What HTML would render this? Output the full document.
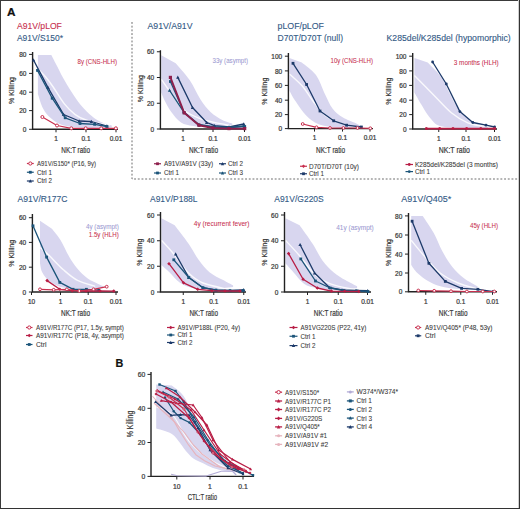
<!DOCTYPE html><html><head><meta charset="utf-8"><style>html,body{margin:0;padding:0;background:#fff;}svg{display:block} text{stroke:currentColor;stroke-width:0.22px;}</style></head><body>
<svg width="520" height="509" viewBox="0 0 520 509" font-family='"Liberation Sans", sans-serif'>
<rect x="0" y="0" width="520" height="509" fill="#fff"/>
<text x="7.00" y="16.30" font-size="11.5" fill="#111" color="#111" font-weight="bold" textLength="8.50" lengthAdjust="spacingAndGlyphs">A</text>
<text x="115.60" y="366.90" font-size="11.5" fill="#111" color="#111" font-weight="bold" textLength="7.80" lengthAdjust="spacingAndGlyphs">B</text>
<path d="M132,22 L132,179 L518,179" fill="none" stroke="#666" stroke-width="0.95" stroke-dasharray="1.9,1.8"/>
<text x="16.90" y="28.60" font-size="9.2" fill="#c8304f" color="#c8304f" font-weight="normal" textLength="45.00" lengthAdjust="spacingAndGlyphs" style="stroke-width:0.12px">A91V/pLOF</text>
<text x="16.90" y="40.60" font-size="9.2" fill="#335a86" color="#335a86" font-weight="normal" textLength="46.10" lengthAdjust="spacingAndGlyphs" style="stroke-width:0.12px">A91V/S150*</text>
<path d="M37.90,54.90 L51.30,54.90 L51.30,54.90 C52.25,56.75 55.07,62.23 57.00,66.00 C58.93,69.77 60.55,73.30 62.90,77.50 C65.25,81.70 68.13,86.62 71.10,91.20 C74.07,95.78 77.27,100.87 80.70,105.00 C84.13,109.13 88.32,113.17 91.70,116.00 C95.08,118.83 97.65,120.42 101.00,122.00 C104.35,123.58 110.00,124.92 111.80,125.50 L111.80,127.50 C107.17,127.55 92.17,128.18 84.00,127.80 C75.83,127.42 68.25,126.73 62.80,125.20 C57.35,123.67 54.57,121.33 51.30,118.60 C48.03,115.87 45.43,112.90 43.20,108.80 C40.97,104.70 38.78,96.47 37.90,94.00 L37.90,94.00 L37.90,54.90 Z" fill="#d8d6ef" stroke="none"/>
<path d="M39.00,70.00 C40.12,71.17 43.33,74.17 45.70,77.00 C48.07,79.83 50.12,82.57 53.20,87.00 C56.28,91.43 60.53,99.00 64.20,103.60 C67.87,108.20 71.57,111.87 75.20,114.60 C78.83,117.33 81.80,118.52 86.00,120.00 C90.20,121.48 96.40,122.67 100.40,123.50 C104.40,124.33 108.40,124.75 110.00,125.00" fill="none" stroke="#ffffff" stroke-width="1.4" opacity="0.85"/>
<path d="M32.60,52.00 L32.60,129.30 L118.00,129.30" fill="none" stroke="#222222" stroke-width="1.4"/>
<path d="M29.10,54.40 L32.60,54.40" stroke="#222222" stroke-width="1"/>
<text x="26.40" y="57.00" font-size="6.5" fill="#3a3a3a" color="#3a3a3a" text-anchor="end">80</text>
<path d="M29.10,73.40 L32.60,73.40" stroke="#222222" stroke-width="1"/>
<text x="26.40" y="76.00" font-size="6.5" fill="#3a3a3a" color="#3a3a3a" text-anchor="end">60</text>
<path d="M29.10,92.20 L32.60,92.20" stroke="#222222" stroke-width="1"/>
<text x="26.40" y="94.80" font-size="6.5" fill="#3a3a3a" color="#3a3a3a" text-anchor="end">40</text>
<path d="M29.10,110.60 L32.60,110.60" stroke="#222222" stroke-width="1"/>
<text x="26.40" y="113.20" font-size="6.5" fill="#3a3a3a" color="#3a3a3a" text-anchor="end">20</text>
<path d="M29.10,129.30 L32.60,129.30" stroke="#222222" stroke-width="1"/>
<text x="26.40" y="131.90" font-size="6.5" fill="#3a3a3a" color="#3a3a3a" text-anchor="end">0</text>
<path d="M56.00,129.30 L56.00,132.30" stroke="#222222" stroke-width="1"/>
<text x="56.00" y="141.10" font-size="6.5" fill="#3a3a3a" color="#3a3a3a" text-anchor="middle">1</text>
<path d="M86.00,129.30 L86.00,132.30" stroke="#222222" stroke-width="1"/>
<text x="86.00" y="141.10" font-size="6.5" fill="#3a3a3a" color="#3a3a3a" text-anchor="middle">0.1</text>
<path d="M116.00,129.30 L116.00,132.30" stroke="#222222" stroke-width="1"/>
<text x="116.00" y="141.10" font-size="6.5" fill="#3a3a3a" color="#3a3a3a" text-anchor="middle">0.01</text>
<text transform="translate(14.10,90.50) rotate(-90)" font-size="8" fill="#3a3a3a" color="#3a3a3a" text-anchor="middle" textLength="27" lengthAdjust="spacingAndGlyphs">% Killing</text>
<text x="61.25" y="152.75" font-size="9.0" fill="#3a3a3a" color="#3a3a3a" font-weight="normal" textLength="28.75" lengthAdjust="spacingAndGlyphs">NK:T ratio</text>
<text x="77.50" y="63.80" font-size="6.6" fill="#c8304f" color="#c8304f" font-weight="normal" textLength="39.50" lengthAdjust="spacingAndGlyphs" style="stroke-width:0.06px">8y (CNS-HLH)</text>
<path d="M33.50,60.00 L48.00,87.60 L63.60,114.50 L79.10,121.00 L91.40,121.50 L106.90,126.00" fill="none" stroke="#1d3a6a" stroke-width="1.3" stroke-linejoin="round" opacity="1"/>
<path d="M33.50,58.20 L35.20,61.40 L31.80,61.40 Z" fill="#1d3a6a"/>
<path d="M48.00,85.80 L49.70,89.00 L46.30,89.00 Z" fill="#1d3a6a"/>
<path d="M63.60,112.70 L65.30,115.90 L61.90,115.90 Z" fill="#1d3a6a"/>
<path d="M79.10,119.20 L80.80,122.40 L77.40,122.40 Z" fill="#1d3a6a"/>
<path d="M91.40,119.70 L93.10,122.90 L89.70,122.90 Z" fill="#1d3a6a"/>
<path d="M106.90,124.20 L108.60,127.40 L105.20,127.40 Z" fill="#1d3a6a"/>
<path d="M37.50,70.40 L52.20,98.20 L65.20,117.80 L80.00,123.50 L94.60,124.30 L107.00,126.50" fill="none" stroke="#1b5479" stroke-width="1.3" stroke-linejoin="round" opacity="1"/>
<rect x="36.10" y="69.00" width="2.80" height="2.80" fill="#1b5479"/>
<rect x="50.80" y="96.80" width="2.80" height="2.80" fill="#1b5479"/>
<rect x="63.80" y="116.40" width="2.80" height="2.80" fill="#1b5479"/>
<rect x="78.60" y="122.10" width="2.80" height="2.80" fill="#1b5479"/>
<rect x="93.20" y="122.90" width="2.80" height="2.80" fill="#1b5479"/>
<rect x="105.60" y="125.10" width="2.80" height="2.80" fill="#1b5479"/>
<path d="M42.35,117.00 L57.00,125.50 L71.30,128.30 L85.70,128.30 L101.20,128.30 L115.90,128.30" fill="none" stroke="#c8304f" stroke-width="1.2" stroke-linejoin="round" opacity="1"/>
<circle cx="42.35" cy="117.00" r="1.50" fill="#fff" stroke="#c8304f" stroke-width="1"/>
<circle cx="57.00" cy="125.50" r="1.50" fill="#fff" stroke="#c8304f" stroke-width="1"/>
<circle cx="71.30" cy="128.30" r="1.50" fill="#fff" stroke="#c8304f" stroke-width="1"/>
<circle cx="85.70" cy="128.30" r="1.50" fill="#fff" stroke="#c8304f" stroke-width="1"/>
<circle cx="101.20" cy="128.30" r="1.50" fill="#fff" stroke="#c8304f" stroke-width="1"/>
<circle cx="115.90" cy="128.30" r="1.50" fill="#fff" stroke="#c8304f" stroke-width="1"/>
<path d="M26.90,163.50 L33.75,163.50" stroke="#c8304f" stroke-width="1.2"/>
<circle cx="30.32" cy="163.50" r="1.60" fill="#fff" stroke="#c8304f" stroke-width="1"/>
<text x="36.90" y="165.90" font-size="6.8" fill="#3a3a3a" color="#3a3a3a" font-weight="normal" textLength="59.10" lengthAdjust="spacingAndGlyphs" style="stroke-width:0.08px">A91V/S150* (P16, 9y)</text>
<path d="M26.90,172.25 L33.75,172.25" stroke="#1b5479" stroke-width="1.2"/>
<rect x="28.93" y="170.85" width="2.80" height="2.80" fill="#1b5479"/>
<text x="36.90" y="174.65" font-size="6.8" fill="#3a3a3a" color="#3a3a3a" font-weight="normal" textLength="15.00" lengthAdjust="spacingAndGlyphs" style="stroke-width:0.08px">Ctrl 1</text>
<path d="M26.90,181.00 L33.75,181.00" stroke="#1d3a6a" stroke-width="1.2"/>
<path d="M30.32,179.20 L32.02,182.40 L28.62,182.40 Z" fill="#1d3a6a"/>
<text x="36.90" y="183.40" font-size="6.8" fill="#3a3a3a" color="#3a3a3a" font-weight="normal" textLength="15.00" lengthAdjust="spacingAndGlyphs" style="stroke-width:0.08px">Ctrl 2</text>
<text x="147.50" y="28.60" font-size="9.2" fill="#335a86" color="#335a86" font-weight="normal" textLength="45.00" lengthAdjust="spacingAndGlyphs" style="stroke-width:0.12px">A91V/A91V</text>
<path d="M161.20,55.30 L175.70,63.30 L175.70,63.30 C178.02,66.10 185.47,74.07 189.60,80.10 C193.73,86.13 197.02,94.20 200.50,99.50 C203.98,104.80 206.87,108.50 210.50,111.90 C214.13,115.30 218.67,117.98 222.30,119.90 C225.93,121.82 230.63,122.82 232.30,123.40 L232.30,125.00 C228.75,125.33 217.48,126.83 211.00,127.00 C204.52,127.17 198.40,126.75 193.40,126.00 C188.40,125.25 184.68,124.83 181.00,122.50 C177.32,120.17 173.97,115.53 171.30,112.00 C168.63,108.47 166.68,104.55 165.00,101.30 C163.32,98.05 161.83,93.97 161.20,92.50 L161.20,92.50 L161.20,55.30 Z" fill="#d8d6ef" stroke="none"/>
<path d="M161.20,79.20 C163.62,82.63 171.82,94.58 175.70,99.80 C179.58,105.02 180.08,107.25 184.50,110.50 C188.92,113.75 194.82,116.85 202.20,119.30 C209.58,121.75 224.37,124.22 228.80,125.20" fill="none" stroke="#ffffff" stroke-width="1.4" opacity="0.85"/>
<path d="M160.40,50.30 L160.40,129.00 L246.00,129.00" fill="none" stroke="#222222" stroke-width="1.4"/>
<path d="M156.90,51.75 L160.40,51.75" stroke="#222222" stroke-width="1"/>
<text x="154.20" y="54.35" font-size="6.5" fill="#3a3a3a" color="#3a3a3a" text-anchor="end">60</text>
<path d="M156.90,77.50 L160.40,77.50" stroke="#222222" stroke-width="1"/>
<text x="154.20" y="80.10" font-size="6.5" fill="#3a3a3a" color="#3a3a3a" text-anchor="end">40</text>
<path d="M156.90,103.25 L160.40,103.25" stroke="#222222" stroke-width="1"/>
<text x="154.20" y="105.85" font-size="6.5" fill="#3a3a3a" color="#3a3a3a" text-anchor="end">20</text>
<path d="M156.90,129.00 L160.40,129.00" stroke="#222222" stroke-width="1"/>
<text x="154.20" y="131.60" font-size="6.5" fill="#3a3a3a" color="#3a3a3a" text-anchor="end">0</text>
<path d="M183.00,129.00 L183.00,132.00" stroke="#222222" stroke-width="1"/>
<text x="183.00" y="140.80" font-size="6.5" fill="#3a3a3a" color="#3a3a3a" text-anchor="middle">1</text>
<path d="M213.00,129.00 L213.00,132.00" stroke="#222222" stroke-width="1"/>
<text x="213.00" y="140.80" font-size="6.5" fill="#3a3a3a" color="#3a3a3a" text-anchor="middle">0.1</text>
<path d="M244.50,129.00 L244.50,132.00" stroke="#222222" stroke-width="1"/>
<text x="244.50" y="140.80" font-size="6.5" fill="#3a3a3a" color="#3a3a3a" text-anchor="middle">0.01</text>
<text transform="translate(143.20,88.70) rotate(-90)" font-size="8" fill="#3a3a3a" color="#3a3a3a" text-anchor="middle" textLength="27" lengthAdjust="spacingAndGlyphs">% Killing</text>
<text x="189.00" y="152.75" font-size="9.0" fill="#3a3a3a" color="#3a3a3a" font-weight="normal" textLength="29.00" lengthAdjust="spacingAndGlyphs">NK:T ratio</text>
<text x="212.50" y="63.20" font-size="6.6" fill="#9c9ad2" color="#9c9ad2" font-weight="normal" textLength="35.50" lengthAdjust="spacingAndGlyphs" style="stroke-width:0.06px">33y (asympt)</text>
<path d="M177.80,77.40 L192.50,107.50 L206.70,122.50 L214.60,125.70 L229.00,127.00 L243.80,124.00" fill="none" stroke="#1d3a6a" stroke-width="1.3" stroke-linejoin="round" opacity="1"/>
<path d="M177.80,75.60 L179.50,78.80 L176.10,78.80 Z" fill="#1d3a6a"/>
<path d="M192.50,105.70 L194.20,108.90 L190.80,108.90 Z" fill="#1d3a6a"/>
<path d="M206.70,120.70 L208.40,123.90 L205.00,123.90 Z" fill="#1d3a6a"/>
<path d="M214.60,123.90 L216.30,127.10 L212.90,127.10 Z" fill="#1d3a6a"/>
<path d="M229.00,125.20 L230.70,128.40 L227.30,128.40 Z" fill="#1d3a6a"/>
<path d="M243.80,122.20 L245.50,125.40 L242.10,125.40 Z" fill="#1d3a6a"/>
<path d="M169.50,90.30 L183.70,111.90 L199.00,124.50 L214.00,127.00 L229.00,127.50 L244.00,126.00" fill="none" stroke="#1b5479" stroke-width="1.3" stroke-linejoin="round" opacity="1"/>
<path d="M169.50,88.50 L171.20,91.70 L167.80,91.70 Z" fill="#1b5479"/>
<path d="M183.70,110.10 L185.40,113.30 L182.00,113.30 Z" fill="#1b5479"/>
<path d="M199.00,122.70 L200.70,125.90 L197.30,125.90 Z" fill="#1b5479"/>
<path d="M214.00,125.20 L215.70,128.40 L212.30,128.40 Z" fill="#1b5479"/>
<path d="M229.00,125.70 L230.70,128.90 L227.30,128.90 Z" fill="#1b5479"/>
<path d="M244.00,124.20 L245.70,127.40 L242.30,127.40 Z" fill="#1b5479"/>
<path d="M170.40,81.50 L184.20,112.80 L199.00,125.20 L212.80,127.00 L229.00,127.50 L244.70,126.50" fill="none" stroke="#1b5479" stroke-width="1.3" stroke-linejoin="round" opacity="1"/>
<rect x="169.00" y="80.10" width="2.80" height="2.80" fill="#1b5479"/>
<rect x="182.80" y="111.40" width="2.80" height="2.80" fill="#1b5479"/>
<rect x="197.60" y="123.80" width="2.80" height="2.80" fill="#1b5479"/>
<rect x="211.40" y="125.60" width="2.80" height="2.80" fill="#1b5479"/>
<rect x="227.60" y="126.10" width="2.80" height="2.80" fill="#1b5479"/>
<rect x="243.30" y="125.10" width="2.80" height="2.80" fill="#1b5479"/>
<path d="M170.40,77.40 L184.20,112.80 L199.00,125.20 L212.80,128.00 L229.00,128.60 L244.70,128.60" fill="none" stroke="#8e1f4c" stroke-width="1.9" stroke-linejoin="round" opacity="1"/>
<rect x="168.80" y="75.80" width="3.20" height="3.20" fill="#8e1f4c"/>
<rect x="182.60" y="111.20" width="3.20" height="3.20" fill="#8e1f4c"/>
<rect x="197.40" y="123.60" width="3.20" height="3.20" fill="#8e1f4c"/>
<rect x="211.20" y="126.40" width="3.20" height="3.20" fill="#8e1f4c"/>
<rect x="227.40" y="127.00" width="3.20" height="3.20" fill="#8e1f4c"/>
<rect x="243.10" y="127.00" width="3.20" height="3.20" fill="#8e1f4c"/>
<path d="M154.00,163.75 L161.00,163.75" stroke="#8e1f4c" stroke-width="1.2"/>
<rect x="156.10" y="162.35" width="2.80" height="2.80" fill="#8e1f4c"/>
<text x="164.00" y="166.15" font-size="6.8" fill="#3a3a3a" color="#3a3a3a" font-weight="normal" textLength="49.00" lengthAdjust="spacingAndGlyphs" style="stroke-width:0.08px">A91V/A91V (33y)</text>
<path d="M219.00,163.75 L226.00,163.75" stroke="#1d3a6a" stroke-width="1.2"/>
<path d="M222.50,161.95 L224.20,165.15 L220.80,165.15 Z" fill="#1d3a6a"/>
<text x="228.00" y="166.15" font-size="6.8" fill="#3a3a3a" color="#3a3a3a" font-weight="normal" textLength="15.00" lengthAdjust="spacingAndGlyphs" style="stroke-width:0.08px">Ctrl 2</text>
<path d="M154.00,173.00 L161.00,173.00" stroke="#1b5479" stroke-width="1.2"/>
<rect x="156.10" y="171.60" width="2.80" height="2.80" fill="#1b5479"/>
<text x="164.00" y="175.40" font-size="6.8" fill="#3a3a3a" color="#3a3a3a" font-weight="normal" textLength="15.00" lengthAdjust="spacingAndGlyphs" style="stroke-width:0.08px">Ctrl 1</text>
<path d="M219.00,173.00 L226.00,173.00" stroke="#1b5479" stroke-width="1.2"/>
<path d="M222.50,171.20 L224.20,174.40 L220.80,174.40 Z" fill="#1b5479"/>
<text x="228.00" y="175.40" font-size="6.8" fill="#3a3a3a" color="#3a3a3a" font-weight="normal" textLength="15.00" lengthAdjust="spacingAndGlyphs" style="stroke-width:0.08px">Ctrl 3</text>
<text x="277.50" y="28.60" font-size="9.2" fill="#335a86" color="#335a86" font-weight="normal" textLength="46.50" lengthAdjust="spacingAndGlyphs" style="stroke-width:0.12px">pLOF/pLOF</text>
<text x="277.50" y="40.60" font-size="9.2" fill="#335a86" color="#335a86" font-weight="normal" textLength="65.50" lengthAdjust="spacingAndGlyphs" style="stroke-width:0.12px">D70T/D70T (null)</text>
<path d="M289.40,58.00 L301.80,62.40 L301.80,62.40 C304.13,64.47 311.93,69.50 315.80,74.80 C319.67,80.10 322.22,88.60 325.00,94.20 C327.78,99.80 329.57,104.57 332.50,108.40 C335.43,112.23 338.63,114.70 342.60,117.20 C346.57,119.70 353.23,121.93 356.30,123.40 C359.37,124.87 360.22,125.57 361.00,126.00 L361.00,127.50 C357.17,127.55 345.07,128.33 338.00,127.80 C330.93,127.27 323.90,126.35 318.60,124.30 C313.30,122.25 310.03,119.33 306.20,115.50 C302.37,111.67 298.40,105.43 295.60,101.30 C292.80,97.17 290.43,92.47 289.40,90.70 L289.40,90.70 L289.40,58.00 Z" fill="#d8d6ef" stroke="none"/>
<path d="M289.40,73.90 C291.62,76.00 298.72,81.90 302.70,86.50 C306.68,91.10 309.47,96.63 313.30,101.50 C317.13,106.37 321.28,112.15 325.70,115.70 C330.12,119.25 334.78,120.92 339.80,122.80 C344.82,124.68 353.13,126.30 355.80,127.00" fill="none" stroke="#ffffff" stroke-width="1.4" opacity="0.85"/>
<path d="M288.40,53.00 L288.40,128.60 L373.00,128.60" fill="none" stroke="#222222" stroke-width="1.4"/>
<path d="M284.90,56.20 L288.40,56.20" stroke="#222222" stroke-width="1"/>
<text x="282.20" y="58.80" font-size="6.5" fill="#3a3a3a" color="#3a3a3a" text-anchor="end">100</text>
<path d="M284.90,70.90 L288.40,70.90" stroke="#222222" stroke-width="1"/>
<text x="282.20" y="73.50" font-size="6.5" fill="#3a3a3a" color="#3a3a3a" text-anchor="end">80</text>
<path d="M284.90,85.40 L288.40,85.40" stroke="#222222" stroke-width="1"/>
<text x="282.20" y="88.00" font-size="6.5" fill="#3a3a3a" color="#3a3a3a" text-anchor="end">60</text>
<path d="M284.90,100.20 L288.40,100.20" stroke="#222222" stroke-width="1"/>
<text x="282.20" y="102.80" font-size="6.5" fill="#3a3a3a" color="#3a3a3a" text-anchor="end">40</text>
<path d="M284.90,114.60 L288.40,114.60" stroke="#222222" stroke-width="1"/>
<text x="282.20" y="117.20" font-size="6.5" fill="#3a3a3a" color="#3a3a3a" text-anchor="end">20</text>
<path d="M284.90,128.60 L288.40,128.60" stroke="#222222" stroke-width="1"/>
<text x="282.20" y="131.20" font-size="6.5" fill="#3a3a3a" color="#3a3a3a" text-anchor="end">0</text>
<path d="M314.50,128.60 L314.50,131.60" stroke="#222222" stroke-width="1"/>
<text x="314.50" y="140.40" font-size="6.5" fill="#3a3a3a" color="#3a3a3a" text-anchor="middle">1</text>
<path d="M342.50,128.60 L342.50,131.60" stroke="#222222" stroke-width="1"/>
<text x="342.50" y="140.40" font-size="6.5" fill="#3a3a3a" color="#3a3a3a" text-anchor="middle">0.1</text>
<path d="M370.00,128.60 L370.00,131.60" stroke="#222222" stroke-width="1"/>
<text x="370.00" y="140.40" font-size="6.5" fill="#3a3a3a" color="#3a3a3a" text-anchor="middle">0.01</text>
<text transform="translate(267.30,91.20) rotate(-90)" font-size="8" fill="#3a3a3a" color="#3a3a3a" text-anchor="middle" textLength="27" lengthAdjust="spacingAndGlyphs">% Killing</text>
<text x="316.00" y="152.75" font-size="9.0" fill="#3a3a3a" color="#3a3a3a" font-weight="normal" textLength="29.00" lengthAdjust="spacingAndGlyphs">NK:T ratio</text>
<text x="330.50" y="63.00" font-size="6.6" fill="#c8304f" color="#c8304f" font-weight="normal" textLength="42.50" lengthAdjust="spacingAndGlyphs" style="stroke-width:0.06px">10y (CNS-HLH)</text>
<path d="M293.00,63.30 L306.60,84.50 L320.00,111.00 L333.70,120.80 L346.60,125.20 L361.40,127.00" fill="none" stroke="#1d3a6a" stroke-width="1.3" stroke-linejoin="round" opacity="1"/>
<rect x="291.60" y="61.90" width="2.80" height="2.80" fill="#1d3a6a"/>
<rect x="305.20" y="83.10" width="2.80" height="2.80" fill="#1d3a6a"/>
<rect x="318.60" y="109.60" width="2.80" height="2.80" fill="#1d3a6a"/>
<rect x="332.30" y="119.40" width="2.80" height="2.80" fill="#1d3a6a"/>
<rect x="345.20" y="123.80" width="2.80" height="2.80" fill="#1d3a6a"/>
<rect x="360.00" y="125.60" width="2.80" height="2.80" fill="#1d3a6a"/>
<path d="M302.70,124.00 L316.50,127.30 L330.00,128.00 L343.40,128.00 L357.50,128.00 L370.30,128.30" fill="none" stroke="#c8304f" stroke-width="1.2" stroke-linejoin="round" opacity="1"/>
<circle cx="302.70" cy="124.00" r="1.40" fill="#fff" stroke="#c8304f" stroke-width="1"/>
<circle cx="316.50" cy="127.30" r="1.40" fill="#fff" stroke="#c8304f" stroke-width="1"/>
<circle cx="330.00" cy="128.00" r="1.40" fill="#fff" stroke="#c8304f" stroke-width="1"/>
<circle cx="343.40" cy="128.00" r="1.40" fill="#fff" stroke="#c8304f" stroke-width="1"/>
<circle cx="357.50" cy="128.00" r="1.40" fill="#fff" stroke="#c8304f" stroke-width="1"/>
<circle cx="370.30" cy="128.30" r="1.40" fill="#fff" stroke="#c8304f" stroke-width="1"/>
<path d="M300.00,166.25 L307.00,166.25" stroke="#c8304f" stroke-width="1.2"/>
<path d="M303.50,164.45 L305.30,166.25 L303.50,168.05 L301.70,166.25 Z" fill="#c8304f"/>
<text x="309.00" y="168.65" font-size="6.8" fill="#3a3a3a" color="#3a3a3a" font-weight="normal" textLength="50.00" lengthAdjust="spacingAndGlyphs" style="stroke-width:0.08px">D70T/D70T (10y)</text>
<path d="M300.00,173.75 L307.00,173.75" stroke="#1d3a6a" stroke-width="1.2"/>
<rect x="302.10" y="172.35" width="2.80" height="2.80" fill="#1d3a6a"/>
<text x="309.00" y="176.15" font-size="6.8" fill="#3a3a3a" color="#3a3a3a" font-weight="normal" textLength="15.00" lengthAdjust="spacingAndGlyphs" style="stroke-width:0.08px">Ctrl 1</text>
<text x="386.50" y="40.60" font-size="9.2" fill="#335a86" color="#335a86" font-weight="normal" textLength="124.25" lengthAdjust="spacingAndGlyphs" style="stroke-width:0.12px">K285del/K285del (hypomorphic)</text>
<path d="M414.40,58.00 L427.70,62.40 L427.70,62.40 C429.88,64.75 437.22,71.48 440.80,76.50 C444.38,81.52 446.72,87.78 449.20,92.50 C451.68,97.22 453.22,100.97 455.70,104.80 C458.18,108.63 460.72,112.40 464.10,115.50 C467.48,118.60 472.05,121.48 476.00,123.40 C479.95,125.32 485.83,126.40 487.80,127.00 L487.80,128.00 C483.67,127.97 470.97,128.13 463.00,127.80 C455.03,127.47 445.58,127.77 440.00,126.00 C434.42,124.23 432.58,120.73 429.50,117.20 C426.42,113.67 424.02,108.92 421.50,104.80 C418.98,100.68 415.58,94.55 414.40,92.50 L414.40,92.50 L414.40,58.00 Z" fill="#d8d6ef" stroke="none"/>
<path d="M414.40,75.60 C417.48,78.70 426.75,88.00 432.90,94.20 C439.05,100.40 445.48,108.03 451.30,112.80 C457.12,117.57 462.30,120.53 467.80,122.80 C473.30,125.07 481.55,125.80 484.30,126.40" fill="none" stroke="#ffffff" stroke-width="1.4" opacity="0.85"/>
<path d="M412.70,53.00 L412.70,129.00 L497.00,129.00" fill="none" stroke="#222222" stroke-width="1.4"/>
<path d="M409.20,56.20 L412.70,56.20" stroke="#222222" stroke-width="1"/>
<text x="406.50" y="58.80" font-size="6.5" fill="#3a3a3a" color="#3a3a3a" text-anchor="end">100</text>
<path d="M409.20,70.90 L412.70,70.90" stroke="#222222" stroke-width="1"/>
<text x="406.50" y="73.50" font-size="6.5" fill="#3a3a3a" color="#3a3a3a" text-anchor="end">80</text>
<path d="M409.20,85.40 L412.70,85.40" stroke="#222222" stroke-width="1"/>
<text x="406.50" y="88.00" font-size="6.5" fill="#3a3a3a" color="#3a3a3a" text-anchor="end">60</text>
<path d="M409.20,100.20 L412.70,100.20" stroke="#222222" stroke-width="1"/>
<text x="406.50" y="102.80" font-size="6.5" fill="#3a3a3a" color="#3a3a3a" text-anchor="end">40</text>
<path d="M409.20,114.60 L412.70,114.60" stroke="#222222" stroke-width="1"/>
<text x="406.50" y="117.20" font-size="6.5" fill="#3a3a3a" color="#3a3a3a" text-anchor="end">20</text>
<path d="M409.20,129.00 L412.70,129.00" stroke="#222222" stroke-width="1"/>
<text x="406.50" y="131.60" font-size="6.5" fill="#3a3a3a" color="#3a3a3a" text-anchor="end">0</text>
<path d="M438.75,129.00 L438.75,132.00" stroke="#222222" stroke-width="1"/>
<text x="438.75" y="140.80" font-size="6.5" fill="#3a3a3a" color="#3a3a3a" text-anchor="middle">1</text>
<path d="M466.00,129.00 L466.00,132.00" stroke="#222222" stroke-width="1"/>
<text x="466.00" y="140.80" font-size="6.5" fill="#3a3a3a" color="#3a3a3a" text-anchor="middle">0.1</text>
<path d="M494.50,129.00 L494.50,132.00" stroke="#222222" stroke-width="1"/>
<text x="494.50" y="140.80" font-size="6.5" fill="#3a3a3a" color="#3a3a3a" text-anchor="middle">0.01</text>
<text transform="translate(391.40,91.20) rotate(-90)" font-size="8" fill="#3a3a3a" color="#3a3a3a" text-anchor="middle" textLength="27" lengthAdjust="spacingAndGlyphs">% Killing</text>
<text x="438.75" y="152.75" font-size="9.0" fill="#3a3a3a" color="#3a3a3a" font-weight="normal" textLength="31.25" lengthAdjust="spacingAndGlyphs">NK:T ratio</text>
<text x="453.75" y="64.80" font-size="6.6" fill="#c8304f" color="#c8304f" font-weight="normal" textLength="45.00" lengthAdjust="spacingAndGlyphs" style="stroke-width:0.06px">3 months (HLH)</text>
<path d="M432.60,62.00 L446.30,84.00 L459.90,111.60 L472.80,122.50 L486.00,125.20 L494.60,127.00" fill="none" stroke="#1d3a6a" stroke-width="1.3" stroke-linejoin="round" opacity="1"/>
<circle cx="432.60" cy="62.00" r="1.40" fill="#1d3a6a"/>
<circle cx="446.30" cy="84.00" r="1.40" fill="#1d3a6a"/>
<circle cx="459.90" cy="111.60" r="1.40" fill="#1d3a6a"/>
<circle cx="472.80" cy="122.50" r="1.40" fill="#1d3a6a"/>
<circle cx="486.00" cy="125.20" r="1.40" fill="#1d3a6a"/>
<circle cx="494.60" cy="127.00" r="1.40" fill="#1d3a6a"/>
<path d="M426.30,128.60 L439.70,128.60 L453.00,128.60 L466.60,128.60 L480.80,128.60 L494.60,128.60" fill="none" stroke="#b81d45" stroke-width="1.7" stroke-linejoin="round" opacity="1"/>
<circle cx="426.30" cy="128.60" r="1.50" fill="#b81d45"/>
<circle cx="439.70" cy="128.60" r="1.50" fill="#b81d45"/>
<circle cx="453.00" cy="128.60" r="1.50" fill="#b81d45"/>
<circle cx="466.60" cy="128.60" r="1.50" fill="#b81d45"/>
<circle cx="480.80" cy="128.60" r="1.50" fill="#b81d45"/>
<circle cx="494.60" cy="128.60" r="1.50" fill="#b81d45"/>
<path d="M405.50,164.50 L413.00,164.50" stroke="#b81d45" stroke-width="1.2"/>
<circle cx="409.25" cy="164.50" r="1.40" fill="#b81d45"/>
<text x="415.00" y="166.90" font-size="6.8" fill="#3a3a3a" color="#3a3a3a" font-weight="normal" textLength="83.00" lengthAdjust="spacingAndGlyphs" style="stroke-width:0.08px">K285del/K285del (3 months)</text>
<path d="M405.50,171.60 L413.00,171.60" stroke="#1b5479" stroke-width="1.2"/>
<circle cx="409.25" cy="171.60" r="1.40" fill="#1b5479"/>
<text x="415.00" y="174.00" font-size="6.8" fill="#3a3a3a" color="#3a3a3a" font-weight="normal" textLength="15.00" lengthAdjust="spacingAndGlyphs" style="stroke-width:0.08px">Ctrl 1</text>
<text x="17.50" y="202.20" font-size="9.2" fill="#335a86" color="#335a86" font-weight="normal" textLength="50.00" lengthAdjust="spacingAndGlyphs" style="stroke-width:0.12px">A91V/R177C</text>
<path d="M40.00,220.80 L51.90,228.80 L51.90,228.80 C53.35,230.72 57.77,235.73 60.60,240.30 C63.43,244.87 66.12,251.48 68.90,256.20 C71.68,260.92 74.22,264.92 77.30,268.60 C80.38,272.28 83.73,275.65 87.40,278.30 C91.07,280.95 96.67,283.17 99.30,284.50 C101.93,285.83 102.55,286.00 103.20,286.30 L103.20,287.50 C99.52,287.75 88.03,289.05 81.10,289.00 C74.17,288.95 66.92,288.53 61.60,287.20 C56.28,285.87 52.43,283.50 49.20,281.00 C45.97,278.50 43.73,275.15 42.20,272.20 C40.67,269.25 40.37,264.78 40.00,263.30 L40.00,263.30 L40.00,220.80 Z" fill="#d8d6ef" stroke="none"/>
<path d="M40.00,247.40 C41.53,248.77 45.30,251.87 49.20,255.60 C53.10,259.33 58.68,265.67 63.40,269.80 C68.12,273.93 72.20,277.65 77.50,280.40 C82.80,283.15 92.25,285.32 95.20,286.30" fill="none" stroke="#ffffff" stroke-width="1.4" opacity="0.85"/>
<path d="M32.40,214.00 L32.40,292.00 L118.00,292.00" fill="none" stroke="#222222" stroke-width="1.4"/>
<path d="M28.90,217.70 L32.40,217.70" stroke="#222222" stroke-width="1"/>
<text x="26.20" y="220.30" font-size="6.5" fill="#3a3a3a" color="#3a3a3a" text-anchor="end">60</text>
<path d="M28.90,242.40 L32.40,242.40" stroke="#222222" stroke-width="1"/>
<text x="26.20" y="245.00" font-size="6.5" fill="#3a3a3a" color="#3a3a3a" text-anchor="end">40</text>
<path d="M28.90,267.20 L32.40,267.20" stroke="#222222" stroke-width="1"/>
<text x="26.20" y="269.80" font-size="6.5" fill="#3a3a3a" color="#3a3a3a" text-anchor="end">20</text>
<path d="M28.90,292.00 L32.40,292.00" stroke="#222222" stroke-width="1"/>
<text x="26.20" y="294.60" font-size="6.5" fill="#3a3a3a" color="#3a3a3a" text-anchor="end">0</text>
<path d="M31.50,292.00 L31.50,295.00" stroke="#222222" stroke-width="1"/>
<text x="31.50" y="303.80" font-size="6.5" fill="#3a3a3a" color="#3a3a3a" text-anchor="middle">10</text>
<path d="M60.50,292.00 L60.50,295.00" stroke="#222222" stroke-width="1"/>
<text x="60.50" y="303.80" font-size="6.5" fill="#3a3a3a" color="#3a3a3a" text-anchor="middle">1</text>
<path d="M88.20,292.00 L88.20,295.00" stroke="#222222" stroke-width="1"/>
<text x="88.20" y="303.80" font-size="6.5" fill="#3a3a3a" color="#3a3a3a" text-anchor="middle">0.1</text>
<path d="M116.00,292.00 L116.00,295.00" stroke="#222222" stroke-width="1"/>
<text x="116.00" y="303.80" font-size="6.5" fill="#3a3a3a" color="#3a3a3a" text-anchor="middle">0.01</text>
<text transform="translate(14.30,253.30) rotate(-90)" font-size="8" fill="#3a3a3a" color="#3a3a3a" text-anchor="middle" textLength="27" lengthAdjust="spacingAndGlyphs">% Killing</text>
<text x="61.00" y="315.70" font-size="9.0" fill="#3a3a3a" color="#3a3a3a" font-weight="normal" textLength="29.00" lengthAdjust="spacingAndGlyphs">NK:T ratio</text>
<text x="86.00" y="229.10" font-size="6.6" fill="#9c9ad2" color="#9c9ad2" font-weight="normal" textLength="32.75" lengthAdjust="spacingAndGlyphs" style="stroke-width:0.06px">4y (asympt)</text>
<text x="88.75" y="237.40" font-size="6.6" fill="#c8304f" color="#c8304f" font-weight="normal" textLength="30.00" lengthAdjust="spacingAndGlyphs" style="stroke-width:0.06px">1.5y (HLH)</text>
<path d="M33.00,225.80 L46.60,257.10 L59.80,282.40 L73.10,289.30 L86.40,289.30 L98.80,290.20" fill="none" stroke="#1b5479" stroke-width="1.3" stroke-linejoin="round" opacity="1"/>
<rect x="31.60" y="224.40" width="2.80" height="2.80" fill="#1b5479"/>
<rect x="45.20" y="255.70" width="2.80" height="2.80" fill="#1b5479"/>
<rect x="58.40" y="281.00" width="2.80" height="2.80" fill="#1b5479"/>
<rect x="71.70" y="287.90" width="2.80" height="2.80" fill="#1b5479"/>
<rect x="85.00" y="287.90" width="2.80" height="2.80" fill="#1b5479"/>
<rect x="97.40" y="288.80" width="2.80" height="2.80" fill="#1b5479"/>
<path d="M47.10,280.60 L59.80,289.30 L72.20,290.70 L86.00,291.00 L100.00,291.00 L113.80,291.10" fill="none" stroke="#b81d45" stroke-width="1.3" stroke-linejoin="round" opacity="1"/>
<path d="M47.10,278.80 L48.90,280.60 L47.10,282.40 L45.30,280.60 Z" fill="#b81d45"/>
<path d="M59.80,287.50 L61.60,289.30 L59.80,291.10 L58.00,289.30 Z" fill="#b81d45"/>
<path d="M72.20,288.90 L74.00,290.70 L72.20,292.50 L70.40,290.70 Z" fill="#b81d45"/>
<path d="M86.00,289.20 L87.80,291.00 L86.00,292.80 L84.20,291.00 Z" fill="#b81d45"/>
<path d="M100.00,289.20 L101.80,291.00 L100.00,292.80 L98.20,291.00 Z" fill="#b81d45"/>
<path d="M113.80,289.30 L115.60,291.10 L113.80,292.90 L112.00,291.10 Z" fill="#b81d45"/>
<path d="M40.00,289.30 L53.70,289.80 L66.90,289.30 L79.30,291.00 L93.50,289.30 L106.70,286.70" fill="none" stroke="#c8304f" stroke-width="1.2" stroke-linejoin="round" opacity="1"/>
<circle cx="40.00" cy="289.30" r="1.40" fill="#fff" stroke="#c8304f" stroke-width="1"/>
<circle cx="53.70" cy="289.80" r="1.40" fill="#fff" stroke="#c8304f" stroke-width="1"/>
<circle cx="66.90" cy="289.30" r="1.40" fill="#fff" stroke="#c8304f" stroke-width="1"/>
<circle cx="79.30" cy="291.00" r="1.40" fill="#fff" stroke="#c8304f" stroke-width="1"/>
<circle cx="93.50" cy="289.30" r="1.40" fill="#fff" stroke="#c8304f" stroke-width="1"/>
<circle cx="106.70" cy="286.70" r="1.40" fill="#fff" stroke="#c8304f" stroke-width="1"/>
<path d="M26.00,327.50 L32.50,327.50" stroke="#c8304f" stroke-width="1.2"/>
<circle cx="29.25" cy="327.50" r="1.60" fill="#fff" stroke="#c8304f" stroke-width="1"/>
<text x="36.00" y="329.90" font-size="6.8" fill="#3a3a3a" color="#3a3a3a" font-weight="normal" textLength="87.75" lengthAdjust="spacingAndGlyphs" style="stroke-width:0.08px">A91V/R177C (P17, 1.5y, sympt)</text>
<path d="M26.00,335.50 L32.50,335.50" stroke="#b81d45" stroke-width="1.2"/>
<path d="M29.25,333.70 L31.05,335.50 L29.25,337.30 L27.45,335.50 Z" fill="#b81d45"/>
<text x="36.00" y="337.90" font-size="6.8" fill="#3a3a3a" color="#3a3a3a" font-weight="normal" textLength="87.75" lengthAdjust="spacingAndGlyphs" style="stroke-width:0.08px">A91V/R177C (P18, 4y, asympt)</text>
<path d="M26.00,344.50 L32.50,344.50" stroke="#1b5479" stroke-width="1.2"/>
<rect x="27.85" y="343.10" width="2.80" height="2.80" fill="#1b5479"/>
<text x="36.00" y="346.90" font-size="6.8" fill="#3a3a3a" color="#3a3a3a" font-weight="normal" textLength="10.50" lengthAdjust="spacingAndGlyphs" style="stroke-width:0.08px">Ctrl</text>
<text x="150.00" y="202.20" font-size="9.2" fill="#335a86" color="#335a86" font-weight="normal" textLength="47.50" lengthAdjust="spacingAndGlyphs" style="stroke-width:0.12px">A91V/P188L</text>
<path d="M161.40,218.20 L174.70,225.30 L174.70,225.30 C177.02,228.38 184.62,238.05 188.60,243.80 C192.58,249.55 195.12,255.07 198.60,259.80 C202.08,264.53 205.42,268.82 209.50,272.20 C213.58,275.58 219.17,277.90 223.10,280.10 C227.03,282.30 231.43,284.52 233.10,285.40 L233.10,287.00 C229.27,287.38 216.88,289.13 210.10,289.30 C203.32,289.47 197.42,289.08 192.40,288.00 C187.38,286.92 183.83,285.43 180.00,282.80 C176.17,280.17 172.50,275.15 169.40,272.20 C166.30,269.25 162.73,266.28 161.40,265.10 L161.40,265.10 L161.40,218.20 Z" fill="#d8d6ef" stroke="none"/>
<path d="M161.40,240.30 C163.32,242.42 168.33,247.50 172.90,253.00 C177.47,258.50 183.78,268.30 188.80,273.30 C193.82,278.30 196.50,280.33 203.00,283.00 C209.50,285.67 223.67,288.25 227.80,289.30" fill="none" stroke="#ffffff" stroke-width="1.4" opacity="0.85"/>
<path d="M160.50,212.00 L160.50,292.00 L246.00,292.00" fill="none" stroke="#222222" stroke-width="1.4"/>
<path d="M157.00,215.00 L160.50,215.00" stroke="#222222" stroke-width="1"/>
<text x="154.30" y="217.60" font-size="6.5" fill="#3a3a3a" color="#3a3a3a" text-anchor="end">60</text>
<path d="M157.00,240.75 L160.50,240.75" stroke="#222222" stroke-width="1"/>
<text x="154.30" y="243.35" font-size="6.5" fill="#3a3a3a" color="#3a3a3a" text-anchor="end">40</text>
<path d="M157.00,266.25 L160.50,266.25" stroke="#222222" stroke-width="1"/>
<text x="154.30" y="268.85" font-size="6.5" fill="#3a3a3a" color="#3a3a3a" text-anchor="end">20</text>
<path d="M157.00,292.00 L160.50,292.00" stroke="#222222" stroke-width="1"/>
<text x="154.30" y="294.60" font-size="6.5" fill="#3a3a3a" color="#3a3a3a" text-anchor="end">0</text>
<path d="M183.25,292.00 L183.25,295.00" stroke="#222222" stroke-width="1"/>
<text x="183.25" y="303.80" font-size="6.5" fill="#3a3a3a" color="#3a3a3a" text-anchor="middle">1</text>
<path d="M213.75,292.00 L213.75,295.00" stroke="#222222" stroke-width="1"/>
<text x="213.75" y="303.80" font-size="6.5" fill="#3a3a3a" color="#3a3a3a" text-anchor="middle">0.1</text>
<path d="M243.75,292.00 L243.75,295.00" stroke="#222222" stroke-width="1"/>
<text x="243.75" y="303.80" font-size="6.5" fill="#3a3a3a" color="#3a3a3a" text-anchor="middle">0.01</text>
<text transform="translate(142.10,252.20) rotate(-90)" font-size="8" fill="#3a3a3a" color="#3a3a3a" text-anchor="middle" textLength="27" lengthAdjust="spacingAndGlyphs">% Killing</text>
<text x="189.50" y="315.70" font-size="9.0" fill="#3a3a3a" color="#3a3a3a" font-weight="normal" textLength="28.50" lengthAdjust="spacingAndGlyphs">NK:T ratio</text>
<text x="193.75" y="226.10" font-size="6.6" fill="#c8304f" color="#c8304f" font-weight="normal" textLength="55.75" lengthAdjust="spacingAndGlyphs" style="stroke-width:0.06px">4y (recurrent fever)</text>
<path d="M175.60,254.10 L188.80,277.50 L203.00,287.70 L216.00,290.00 L230.00,290.50 L243.70,289.80" fill="none" stroke="#1d3a6a" stroke-width="1.3" stroke-linejoin="round" opacity="1"/>
<path d="M175.60,252.30 L177.30,255.50 L173.90,255.50 Z" fill="#1d3a6a"/>
<path d="M188.80,275.70 L190.50,278.90 L187.10,278.90 Z" fill="#1d3a6a"/>
<path d="M203.00,285.90 L204.70,289.10 L201.30,289.10 Z" fill="#1d3a6a"/>
<path d="M216.00,288.20 L217.70,291.40 L214.30,291.40 Z" fill="#1d3a6a"/>
<path d="M230.00,288.70 L231.70,291.90 L228.30,291.90 Z" fill="#1d3a6a"/>
<path d="M243.70,288.00 L245.40,291.20 L242.00,291.20 Z" fill="#1d3a6a"/>
<path d="M173.80,259.80 L188.80,277.50 L203.00,287.70 L216.00,290.20 L230.00,290.70 L243.00,290.50" fill="none" stroke="#1b5479" stroke-width="1.3" stroke-linejoin="round" opacity="1"/>
<rect x="172.40" y="258.40" width="2.80" height="2.80" fill="#1b5479"/>
<rect x="187.40" y="276.10" width="2.80" height="2.80" fill="#1b5479"/>
<rect x="201.60" y="286.30" width="2.80" height="2.80" fill="#1b5479"/>
<rect x="214.60" y="288.80" width="2.80" height="2.80" fill="#1b5479"/>
<rect x="228.60" y="289.30" width="2.80" height="2.80" fill="#1b5479"/>
<rect x="241.60" y="289.10" width="2.80" height="2.80" fill="#1b5479"/>
<path d="M169.00,263.70 L183.50,282.80 L197.70,289.30 L211.80,290.70 L225.00,291.00 L240.00,291.00" fill="none" stroke="#b81d45" stroke-width="1.3" stroke-linejoin="round" opacity="1"/>
<path d="M169.00,261.90 L170.80,263.70 L169.00,265.50 L167.20,263.70 Z" fill="#b81d45"/>
<path d="M183.50,281.00 L185.30,282.80 L183.50,284.60 L181.70,282.80 Z" fill="#b81d45"/>
<path d="M197.70,287.50 L199.50,289.30 L197.70,291.10 L195.90,289.30 Z" fill="#b81d45"/>
<path d="M211.80,288.90 L213.60,290.70 L211.80,292.50 L210.00,290.70 Z" fill="#b81d45"/>
<path d="M225.00,289.20 L226.80,291.00 L225.00,292.80 L223.20,291.00 Z" fill="#b81d45"/>
<path d="M240.00,289.20 L241.80,291.00 L240.00,292.80 L238.20,291.00 Z" fill="#b81d45"/>
<path d="M167.00,327.50 L174.50,327.50" stroke="#b81d45" stroke-width="1.2"/>
<path d="M170.75,325.70 L172.55,327.50 L170.75,329.30 L168.95,327.50 Z" fill="#b81d45"/>
<text x="177.50" y="329.90" font-size="6.8" fill="#3a3a3a" color="#3a3a3a" font-weight="normal" textLength="62.50" lengthAdjust="spacingAndGlyphs" style="stroke-width:0.08px">A91V/P188L (P20, 4y)</text>
<path d="M167.00,335.00 L174.50,335.00" stroke="#1b5479" stroke-width="1.2"/>
<rect x="169.35" y="333.60" width="2.80" height="2.80" fill="#1b5479"/>
<text x="177.50" y="337.40" font-size="6.8" fill="#3a3a3a" color="#3a3a3a" font-weight="normal" textLength="15.00" lengthAdjust="spacingAndGlyphs" style="stroke-width:0.08px">Ctrl 1</text>
<path d="M167.00,342.50 L174.50,342.50" stroke="#1d3a6a" stroke-width="1.2"/>
<path d="M170.75,340.70 L172.45,343.90 L169.05,343.90 Z" fill="#1d3a6a"/>
<text x="177.50" y="344.90" font-size="6.8" fill="#3a3a3a" color="#3a3a3a" font-weight="normal" textLength="15.00" lengthAdjust="spacingAndGlyphs" style="stroke-width:0.08px">Ctrl 2</text>
<text x="274.25" y="202.20" font-size="9.2" fill="#335a86" color="#335a86" font-weight="normal" textLength="49.50" lengthAdjust="spacingAndGlyphs" style="stroke-width:0.12px">A91V/G220S</text>
<path d="M285.40,218.20 L299.60,225.30 L299.60,225.30 C301.77,228.38 308.77,237.90 312.60,243.80 C316.43,249.70 319.12,255.97 322.60,260.70 C326.08,265.43 329.72,268.97 333.50,272.20 C337.28,275.43 341.37,277.75 345.30,280.10 C349.23,282.45 355.13,285.27 357.10,286.30 L357.10,288.00 C353.27,288.30 340.88,289.80 334.10,289.80 C327.32,289.80 321.42,289.02 316.40,288.00 C311.38,286.98 307.83,286.33 304.00,283.70 C300.17,281.07 296.50,275.60 293.40,272.20 C290.30,268.80 286.73,264.78 285.40,263.30 L285.40,263.30 L285.40,218.20 Z" fill="#d8d6ef" stroke="none"/>
<path d="M285.40,240.30 C287.62,242.70 293.83,249.05 298.70,254.70 C303.57,260.35 309.30,269.33 314.60,274.20 C319.90,279.07 323.72,281.30 330.50,283.90 C337.28,286.50 351.17,288.82 355.30,289.80" fill="none" stroke="#ffffff" stroke-width="1.4" opacity="0.85"/>
<path d="M284.50,212.00 L284.50,292.00 L371.00,292.00" fill="none" stroke="#222222" stroke-width="1.4"/>
<path d="M281.00,215.00 L284.50,215.00" stroke="#222222" stroke-width="1"/>
<text x="278.30" y="217.60" font-size="6.5" fill="#3a3a3a" color="#3a3a3a" text-anchor="end">60</text>
<path d="M281.00,240.75 L284.50,240.75" stroke="#222222" stroke-width="1"/>
<text x="278.30" y="243.35" font-size="6.5" fill="#3a3a3a" color="#3a3a3a" text-anchor="end">40</text>
<path d="M281.00,266.25 L284.50,266.25" stroke="#222222" stroke-width="1"/>
<text x="278.30" y="268.85" font-size="6.5" fill="#3a3a3a" color="#3a3a3a" text-anchor="end">20</text>
<path d="M281.00,292.00 L284.50,292.00" stroke="#222222" stroke-width="1"/>
<text x="278.30" y="294.60" font-size="6.5" fill="#3a3a3a" color="#3a3a3a" text-anchor="end">0</text>
<path d="M307.50,292.00 L307.50,295.00" stroke="#222222" stroke-width="1"/>
<text x="307.50" y="303.80" font-size="6.5" fill="#3a3a3a" color="#3a3a3a" text-anchor="middle">1</text>
<path d="M338.25,292.00 L338.25,295.00" stroke="#222222" stroke-width="1"/>
<text x="338.25" y="303.80" font-size="6.5" fill="#3a3a3a" color="#3a3a3a" text-anchor="middle">0.1</text>
<path d="M367.50,292.00 L367.50,295.00" stroke="#222222" stroke-width="1"/>
<text x="367.50" y="303.80" font-size="6.5" fill="#3a3a3a" color="#3a3a3a" text-anchor="middle">0.01</text>
<text transform="translate(266.80,252.20) rotate(-90)" font-size="8" fill="#3a3a3a" color="#3a3a3a" text-anchor="middle" textLength="27" lengthAdjust="spacingAndGlyphs">% Killing</text>
<text x="313.75" y="315.70" font-size="9.0" fill="#3a3a3a" color="#3a3a3a" font-weight="normal" textLength="28.75" lengthAdjust="spacingAndGlyphs">NK:T ratio</text>
<text x="336.25" y="229.80" font-size="6.6" fill="#9c9ad2" color="#9c9ad2" font-weight="normal" textLength="37.50" lengthAdjust="spacingAndGlyphs" style="stroke-width:0.06px">41y (asympt)</text>
<path d="M300.10,244.70 L314.60,273.00 L329.70,287.70 L342.00,290.00 L356.00,290.50 L367.70,290.70" fill="none" stroke="#1d3a6a" stroke-width="1.3" stroke-linejoin="round" opacity="1"/>
<path d="M300.10,242.90 L301.80,246.10 L298.40,246.10 Z" fill="#1d3a6a"/>
<path d="M314.60,271.20 L316.30,274.40 L312.90,274.40 Z" fill="#1d3a6a"/>
<path d="M329.70,285.90 L331.40,289.10 L328.00,289.10 Z" fill="#1d3a6a"/>
<path d="M342.00,288.20 L343.70,291.40 L340.30,291.40 Z" fill="#1d3a6a"/>
<path d="M356.00,288.70 L357.70,291.90 L354.30,291.90 Z" fill="#1d3a6a"/>
<path d="M367.70,288.90 L369.40,292.10 L366.00,292.10 Z" fill="#1d3a6a"/>
<path d="M300.80,258.90 L315.50,281.00 L330.20,288.00 L344.00,290.50 L357.00,291.00 L368.00,291.50" fill="none" stroke="#1b5479" stroke-width="1.3" stroke-linejoin="round" opacity="1"/>
<rect x="299.40" y="257.50" width="2.80" height="2.80" fill="#1b5479"/>
<rect x="314.10" y="279.60" width="2.80" height="2.80" fill="#1b5479"/>
<rect x="328.80" y="286.60" width="2.80" height="2.80" fill="#1b5479"/>
<rect x="342.60" y="289.10" width="2.80" height="2.80" fill="#1b5479"/>
<rect x="355.60" y="289.60" width="2.80" height="2.80" fill="#1b5479"/>
<rect x="366.60" y="290.10" width="2.80" height="2.80" fill="#1b5479"/>
<path d="M288.60,253.60 L303.10,279.20 L317.30,288.00 L331.40,291.10 L344.70,291.30 L358.80,291.50" fill="none" stroke="#b81d45" stroke-width="1.3" stroke-linejoin="round" opacity="1"/>
<path d="M288.60,251.80 L290.40,253.60 L288.60,255.40 L286.80,253.60 Z" fill="#b81d45"/>
<path d="M303.10,277.40 L304.90,279.20 L303.10,281.00 L301.30,279.20 Z" fill="#b81d45"/>
<path d="M317.30,286.20 L319.10,288.00 L317.30,289.80 L315.50,288.00 Z" fill="#b81d45"/>
<path d="M331.40,289.30 L333.20,291.10 L331.40,292.90 L329.60,291.10 Z" fill="#b81d45"/>
<path d="M344.70,289.50 L346.50,291.30 L344.70,293.10 L342.90,291.30 Z" fill="#b81d45"/>
<path d="M358.80,289.70 L360.60,291.50 L358.80,293.30 L357.00,291.50 Z" fill="#b81d45"/>
<path d="M289.50,327.50 L297.50,327.50" stroke="#b81d45" stroke-width="1.2"/>
<path d="M293.50,325.70 L295.30,327.50 L293.50,329.30 L291.70,327.50 Z" fill="#b81d45"/>
<text x="300.50" y="329.90" font-size="6.8" fill="#3a3a3a" color="#3a3a3a" font-weight="normal" textLength="65.75" lengthAdjust="spacingAndGlyphs" style="stroke-width:0.08px">A91VG220S (P22, 41y)</text>
<path d="M289.50,336.25 L297.50,336.25" stroke="#1b5479" stroke-width="1.2"/>
<rect x="292.10" y="334.85" width="2.80" height="2.80" fill="#1b5479"/>
<text x="300.50" y="338.65" font-size="6.8" fill="#3a3a3a" color="#3a3a3a" font-weight="normal" textLength="15.00" lengthAdjust="spacingAndGlyphs" style="stroke-width:0.08px">Ctrl 1</text>
<path d="M289.50,345.60 L297.50,345.60" stroke="#1d3a6a" stroke-width="1.2"/>
<path d="M293.50,343.80 L295.20,347.00 L291.80,347.00 Z" fill="#1d3a6a"/>
<text x="300.50" y="348.00" font-size="6.8" fill="#3a3a3a" color="#3a3a3a" font-weight="normal" textLength="15.00" lengthAdjust="spacingAndGlyphs" style="stroke-width:0.08px">Ctrl 2</text>
<text x="401.25" y="202.20" font-size="9.2" fill="#335a86" color="#335a86" font-weight="normal" textLength="50.00" lengthAdjust="spacingAndGlyphs" style="stroke-width:0.12px">A91V/Q405*</text>
<path d="M411.20,215.90 L422.70,215.90 L422.70,215.90 C424.57,218.78 430.65,227.37 433.90,233.20 C437.15,239.03 439.15,245.30 442.20,250.90 C445.25,256.50 448.57,262.23 452.20,266.80 C455.83,271.37 459.78,275.05 464.00,278.30 C468.22,281.55 475.25,284.97 477.50,286.30 L477.50,288.00 C474.27,288.17 464.28,289.28 458.10,289.00 C451.92,288.72 445.42,287.63 440.40,286.30 C435.38,284.97 431.83,283.22 428.00,281.00 C424.17,278.78 420.20,275.67 417.40,273.00 C414.60,270.33 412.23,266.33 411.20,265.00 L411.20,265.00 L411.20,215.90 Z" fill="#d8d6ef" stroke="none"/>
<path d="M411.20,240.30 C413.70,243.30 421.33,252.80 426.20,258.30 C431.07,263.80 435.08,269.18 440.40,273.30 C445.72,277.42 451.92,280.38 458.10,283.00 C464.28,285.62 474.27,288.00 477.50,289.00" fill="none" stroke="#ffffff" stroke-width="1.4" opacity="0.85"/>
<path d="M408.50,213.00 L408.50,291.80 L497.00,291.80" fill="none" stroke="#222222" stroke-width="1.4"/>
<path d="M405.00,215.90 L408.50,215.90" stroke="#222222" stroke-width="1"/>
<text x="402.30" y="218.50" font-size="6.5" fill="#3a3a3a" color="#3a3a3a" text-anchor="end">80</text>
<path d="M405.00,235.00 L408.50,235.00" stroke="#222222" stroke-width="1"/>
<text x="402.30" y="237.60" font-size="6.5" fill="#3a3a3a" color="#3a3a3a" text-anchor="end">60</text>
<path d="M405.00,254.10 L408.50,254.10" stroke="#222222" stroke-width="1"/>
<text x="402.30" y="256.70" font-size="6.5" fill="#3a3a3a" color="#3a3a3a" text-anchor="end">40</text>
<path d="M405.00,273.00 L408.50,273.00" stroke="#222222" stroke-width="1"/>
<text x="402.30" y="275.60" font-size="6.5" fill="#3a3a3a" color="#3a3a3a" text-anchor="end">20</text>
<path d="M405.00,291.80 L408.50,291.80" stroke="#222222" stroke-width="1"/>
<text x="402.30" y="294.40" font-size="6.5" fill="#3a3a3a" color="#3a3a3a" text-anchor="end">0</text>
<path d="M425.75,291.80 L425.75,294.80" stroke="#222222" stroke-width="1"/>
<text x="425.75" y="303.60" font-size="6.5" fill="#3a3a3a" color="#3a3a3a" text-anchor="middle">1</text>
<path d="M460.75,291.80 L460.75,294.80" stroke="#222222" stroke-width="1"/>
<text x="460.75" y="303.60" font-size="6.5" fill="#3a3a3a" color="#3a3a3a" text-anchor="middle">0.1</text>
<path d="M492.50,291.80 L492.50,294.80" stroke="#222222" stroke-width="1"/>
<text x="492.50" y="303.60" font-size="6.5" fill="#3a3a3a" color="#3a3a3a" text-anchor="middle">0.01</text>
<text transform="translate(391.20,252.50) rotate(-90)" font-size="8" fill="#3a3a3a" color="#3a3a3a" text-anchor="middle" textLength="27" lengthAdjust="spacingAndGlyphs">% Killing</text>
<text x="438.75" y="315.70" font-size="9.0" fill="#3a3a3a" color="#3a3a3a" font-weight="normal" textLength="28.75" lengthAdjust="spacingAndGlyphs">NK:T ratio</text>
<text x="470.00" y="227.90" font-size="6.6" fill="#c8304f" color="#c8304f" font-weight="normal" textLength="28.00" lengthAdjust="spacingAndGlyphs" style="stroke-width:0.06px">45y (HLH)</text>
<path d="M412.10,221.20 L428.90,263.30 L445.30,281.40 L461.60,288.40 L477.90,289.30 L493.50,291.60" fill="none" stroke="#1d3a6a" stroke-width="1.3" stroke-linejoin="round" opacity="1"/>
<rect x="410.70" y="219.80" width="2.80" height="2.80" fill="#1d3a6a"/>
<rect x="427.50" y="261.90" width="2.80" height="2.80" fill="#1d3a6a"/>
<rect x="443.90" y="280.00" width="2.80" height="2.80" fill="#1d3a6a"/>
<rect x="460.20" y="287.00" width="2.80" height="2.80" fill="#1d3a6a"/>
<rect x="476.50" y="287.90" width="2.80" height="2.80" fill="#1d3a6a"/>
<rect x="492.10" y="290.20" width="2.80" height="2.80" fill="#1d3a6a"/>
<path d="M418.30,290.50 L434.20,290.80 L451.00,291.20 L466.90,291.50 L482.80,291.50 L494.30,291.50" fill="none" stroke="#c8304f" stroke-width="1.2" stroke-linejoin="round" opacity="1"/>
<circle cx="418.30" cy="290.50" r="1.40" fill="#fff" stroke="#c8304f" stroke-width="1"/>
<circle cx="434.20" cy="290.80" r="1.40" fill="#fff" stroke="#c8304f" stroke-width="1"/>
<circle cx="451.00" cy="291.20" r="1.40" fill="#fff" stroke="#c8304f" stroke-width="1"/>
<circle cx="466.90" cy="291.50" r="1.40" fill="#fff" stroke="#c8304f" stroke-width="1"/>
<circle cx="482.80" cy="291.50" r="1.40" fill="#fff" stroke="#c8304f" stroke-width="1"/>
<circle cx="494.30" cy="291.50" r="1.40" fill="#fff" stroke="#c8304f" stroke-width="1"/>
<path d="M415.00,327.50 L421.25,327.50" stroke="#c8304f" stroke-width="1.2"/>
<circle cx="418.12" cy="327.50" r="1.60" fill="#fff" stroke="#c8304f" stroke-width="1"/>
<text x="425.00" y="329.90" font-size="6.8" fill="#3a3a3a" color="#3a3a3a" font-weight="normal" textLength="67.50" lengthAdjust="spacingAndGlyphs" style="stroke-width:0.08px">A91V/Q405* (P48, 53y)</text>
<path d="M415.00,335.80 L421.25,335.80" stroke="#1d3a6a" stroke-width="1.2"/>
<rect x="416.73" y="334.40" width="2.80" height="2.80" fill="#1d3a6a"/>
<text x="425.00" y="338.20" font-size="6.8" fill="#3a3a3a" color="#3a3a3a" font-weight="normal" textLength="10.50" lengthAdjust="spacingAndGlyphs" style="stroke-width:0.08px">Ctrl</text>
<path d="M156.20,384.50 L171.80,385.60 L171.80,385.60 C173.76,387.33 180.18,391.27 183.57,396.00 C186.96,400.73 189.54,408.75 192.14,414.00 C194.75,419.25 196.44,422.75 199.21,427.50 C201.99,432.25 205.60,437.75 208.79,442.50 C211.98,447.25 215.17,452.46 218.36,456.00 C221.55,459.54 224.65,461.58 227.93,463.75 C231.20,465.92 236.32,468.12 238.00,469.00 L238.00,472.50 C235.83,472.25 229.17,471.75 225.00,471.00 C220.83,470.25 216.83,469.38 213.00,468.00 C209.17,466.62 205.27,464.30 202.00,462.70 C198.73,461.10 196.08,460.37 193.40,458.40 C190.72,456.43 188.38,453.80 185.90,450.90 C183.42,448.00 180.67,443.68 178.50,441.00 C176.33,438.32 175.17,436.45 172.90,434.80 C170.63,433.15 167.68,432.13 164.90,431.10 C162.12,430.07 157.65,429.02 156.20,428.60 L156.20,428.60 L156.20,384.50 Z" fill="#d8d6ef" stroke="none"/>
<path d="M156.50,407.00 C158.68,407.87 166.35,410.12 169.60,412.20 C172.85,414.28 173.93,416.45 176.00,419.50 C178.07,422.55 179.67,426.67 182.00,430.50 C184.33,434.33 187.00,438.83 190.00,442.50 C193.00,446.17 195.83,449.17 200.00,452.50 C204.17,455.83 209.67,459.58 215.00,462.50 C220.33,465.42 229.17,468.75 232.00,470.00" fill="none" stroke="#ffffff" stroke-width="1.1" opacity="0.85"/>
<path d="M151,372 L151,476.4 L254,476.4" fill="none" stroke="#222222" stroke-width="1.4"/>
<path d="M147.5,374.4 L151,374.4" stroke="#222222" stroke-width="1"/>
<text x="145.20" y="376.80" font-size="6.8" fill="#3a3a3a" color="#3a3a3a" text-anchor="end">60</text>
<path d="M147.5,408.3 L151,408.3" stroke="#222222" stroke-width="1"/>
<text x="145.20" y="410.70" font-size="6.8" fill="#3a3a3a" color="#3a3a3a" text-anchor="end">40</text>
<path d="M147.5,442.5 L151,442.5" stroke="#222222" stroke-width="1"/>
<text x="145.20" y="444.90" font-size="6.8" fill="#3a3a3a" color="#3a3a3a" text-anchor="end">20</text>
<path d="M147.5,476.4 L151,476.4" stroke="#222222" stroke-width="1"/>
<text x="145.20" y="478.80" font-size="6.8" fill="#3a3a3a" color="#3a3a3a" text-anchor="end">0</text>
<path d="M176.8,476.4 L176.8,479.5" stroke="#222222" stroke-width="1"/>
<text x="176.80" y="489.00" font-size="6.8" fill="#3a3a3a" color="#3a3a3a" text-anchor="middle">10</text>
<path d="M210,476.4 L210,479.5" stroke="#222222" stroke-width="1"/>
<text x="210.00" y="489.00" font-size="6.8" fill="#3a3a3a" color="#3a3a3a" text-anchor="middle">1</text>
<path d="M243,476.4 L243,479.5" stroke="#222222" stroke-width="1"/>
<text x="243.00" y="489.00" font-size="6.8" fill="#3a3a3a" color="#3a3a3a" text-anchor="middle">0.1</text>
<text transform="translate(133.2,424) rotate(-90)" font-size="8.6" fill="#3a3a3a" color="#3a3a3a" text-anchor="middle" textLength="26.5" lengthAdjust="spacingAndGlyphs">% Killing</text>
<text x="187.70" y="500.00" font-size="9.0" fill="#3a3a3a" color="#3a3a3a" font-weight="normal" textLength="29.30" lengthAdjust="spacingAndGlyphs">CTL:T ratio</text>
<path d="M152.50,396.25 L171.70,417.50 L179.70,431.10 L188.40,444.70 L195.80,454.70 L204.50,460.80 L215.00,466.00 L232.50,470.00" fill="none" stroke="#e6b4bd" stroke-width="1.1" stroke-linejoin="round" opacity="1"/>
<path d="M154.00,403.00 L165.00,413.00 L174.80,422.00 L184.70,433.00 L193.40,445.00 L202.00,454.00 L220.00,467.00 L236.00,471.00" fill="none" stroke="#e6b4bd" stroke-width="1.1" stroke-linejoin="round" opacity="1"/>
<path d="M171.10,474.20 L177.30,475.70 L206.25,476.10 L221.25,471.25 L232.50,471.25 L236.25,475.00" fill="none" stroke="#b3acd6" stroke-width="1.1" stroke-linejoin="round" opacity="1"/>
<path d="M159.50,384.50 L175.50,391.00 L183.75,401.90 L195.00,422.00 L210.00,445.00 L225.00,461.00 L253.00,475.25" fill="none" stroke="#1b5479" stroke-width="1.2" stroke-linejoin="round" opacity="1"/>
<rect x="158.30" y="383.30" width="2.40" height="2.40" fill="#1b5479"/>
<rect x="174.30" y="389.80" width="2.40" height="2.40" fill="#1b5479"/>
<rect x="182.55" y="400.70" width="2.40" height="2.40" fill="#1b5479"/>
<rect x="193.80" y="420.80" width="2.40" height="2.40" fill="#1b5479"/>
<rect x="208.80" y="443.80" width="2.40" height="2.40" fill="#1b5479"/>
<rect x="223.80" y="459.80" width="2.40" height="2.40" fill="#1b5479"/>
<rect x="251.80" y="474.05" width="2.40" height="2.40" fill="#1b5479"/>
<path d="M165.00,397.50 L173.75,411.25 L180.60,418.10 L189.40,422.50 L200.00,434.00 L212.00,452.00 L228.00,466.00 L243.00,473.00" fill="none" stroke="#1b5479" stroke-width="1.2" stroke-linejoin="round" opacity="1"/>
<circle cx="165.00" cy="397.50" r="1.20" fill="#1b5479"/>
<circle cx="173.75" cy="411.25" r="1.20" fill="#1b5479"/>
<circle cx="180.60" cy="418.10" r="1.20" fill="#1b5479"/>
<circle cx="189.40" cy="422.50" r="1.20" fill="#1b5479"/>
<circle cx="200.00" cy="434.00" r="1.20" fill="#1b5479"/>
<circle cx="212.00" cy="452.00" r="1.20" fill="#1b5479"/>
<circle cx="228.00" cy="466.00" r="1.20" fill="#1b5479"/>
<circle cx="243.00" cy="473.00" r="1.20" fill="#1b5479"/>
<path d="M155.60,401.80 L171.20,415.30 L180.40,414.70 L189.00,415.00 L198.00,428.00 L210.00,450.00 L228.00,468.00 L243.00,474.00" fill="none" stroke="#1d3a6a" stroke-width="1.2" stroke-linejoin="round" opacity="1"/>
<path d="M155.60,400.20 L157.10,403.00 L154.10,403.00 Z" fill="#1d3a6a"/>
<path d="M171.20,413.70 L172.70,416.50 L169.70,416.50 Z" fill="#1d3a6a"/>
<path d="M180.40,413.10 L181.90,415.90 L178.90,415.90 Z" fill="#1d3a6a"/>
<path d="M189.00,413.40 L190.50,416.20 L187.50,416.20 Z" fill="#1d3a6a"/>
<path d="M198.00,426.40 L199.50,429.20 L196.50,429.20 Z" fill="#1d3a6a"/>
<path d="M210.00,448.40 L211.50,451.20 L208.50,451.20 Z" fill="#1d3a6a"/>
<path d="M228.00,466.40 L229.50,469.20 L226.50,469.20 Z" fill="#1d3a6a"/>
<path d="M243.00,472.40 L244.50,475.20 L241.50,475.20 Z" fill="#1d3a6a"/>
<path d="M163.00,392.00 L178.00,399.00 L194.00,417.00 L208.00,440.00 L222.00,459.00 L240.00,472.00" fill="none" stroke="#1b5479" stroke-width="1.2" stroke-linejoin="round" opacity="1"/>
<path d="M163.00,390.40 L164.50,393.20 L161.50,393.20 Z" fill="#1b5479"/>
<path d="M178.00,397.40 L179.50,400.20 L176.50,400.20 Z" fill="#1b5479"/>
<path d="M194.00,415.40 L195.50,418.20 L192.50,418.20 Z" fill="#1b5479"/>
<path d="M208.00,438.40 L209.50,441.20 L206.50,441.20 Z" fill="#1b5479"/>
<path d="M222.00,457.40 L223.50,460.20 L220.50,460.20 Z" fill="#1b5479"/>
<path d="M240.00,470.40 L241.50,473.20 L238.50,473.20 Z" fill="#1b5479"/>
<path d="M166.25,388.10 L180.00,397.00 L195.00,412.00 L206.90,425.00 L218.75,450.00 L232.50,459.40 L250.60,469.00" fill="none" stroke="#b81d45" stroke-width="1.2" stroke-linejoin="round" opacity="1"/>
<path d="M166.25,386.50 L167.75,389.30 L164.75,389.30 Z" fill="#b81d45"/>
<path d="M180.00,395.40 L181.50,398.20 L178.50,398.20 Z" fill="#b81d45"/>
<path d="M195.00,410.40 L196.50,413.20 L193.50,413.20 Z" fill="#b81d45"/>
<path d="M206.90,423.40 L208.40,426.20 L205.40,426.20 Z" fill="#b81d45"/>
<path d="M218.75,448.40 L220.25,451.20 L217.25,451.20 Z" fill="#b81d45"/>
<path d="M232.50,457.80 L234.00,460.60 L231.00,460.60 Z" fill="#b81d45"/>
<path d="M250.60,467.40 L252.10,470.20 L249.10,470.20 Z" fill="#b81d45"/>
<path d="M157.50,390.60 L175.00,399.00 L191.00,410.00 L204.00,430.00 L220.00,454.00 L236.00,466.00 L246.25,471.25" fill="none" stroke="#b81d45" stroke-width="1.2" stroke-linejoin="round" opacity="1"/>
<path d="M157.50,389.00 L159.00,391.80 L156.00,391.80 Z" fill="#b81d45"/>
<path d="M175.00,397.40 L176.50,400.20 L173.50,400.20 Z" fill="#b81d45"/>
<path d="M191.00,408.40 L192.50,411.20 L189.50,411.20 Z" fill="#b81d45"/>
<path d="M204.00,428.40 L205.50,431.20 L202.50,431.20 Z" fill="#b81d45"/>
<path d="M220.00,452.40 L221.50,455.20 L218.50,455.20 Z" fill="#b81d45"/>
<path d="M236.00,464.40 L237.50,467.20 L234.50,467.20 Z" fill="#b81d45"/>
<path d="M246.25,469.65 L247.75,472.45 L244.75,472.45 Z" fill="#b81d45"/>
<path d="M161.25,400.60 L176.25,403.10 L193.10,405.00 L201.90,417.50 L213.00,440.00 L230.00,462.00 L246.00,471.00" fill="none" stroke="#b81d45" stroke-width="1.2" stroke-linejoin="round" opacity="1"/>
<path d="M161.25,399.00 L162.75,401.80 L159.75,401.80 Z" fill="#b81d45"/>
<path d="M176.25,401.50 L177.75,404.30 L174.75,404.30 Z" fill="#b81d45"/>
<path d="M193.10,403.40 L194.60,406.20 L191.60,406.20 Z" fill="#b81d45"/>
<path d="M201.90,415.90 L203.40,418.70 L200.40,418.70 Z" fill="#b81d45"/>
<path d="M213.00,438.40 L214.50,441.20 L211.50,441.20 Z" fill="#b81d45"/>
<path d="M230.00,460.40 L231.50,463.20 L228.50,463.20 Z" fill="#b81d45"/>
<path d="M246.00,469.40 L247.50,472.20 L244.50,472.20 Z" fill="#b81d45"/>
<path d="M157.00,391.00 L169.00,397.00 L184.00,409.00 L198.00,432.00 L213.00,453.00 L232.00,467.00 L244.00,470.00" fill="none" stroke="#c8304f" stroke-width="1.2" stroke-linejoin="round" opacity="1"/>
<circle cx="157.00" cy="391.00" r="1.10" fill="#fff" stroke="#c8304f" stroke-width="1"/>
<circle cx="169.00" cy="397.00" r="1.10" fill="#fff" stroke="#c8304f" stroke-width="1"/>
<circle cx="184.00" cy="409.00" r="1.10" fill="#fff" stroke="#c8304f" stroke-width="1"/>
<circle cx="198.00" cy="432.00" r="1.10" fill="#fff" stroke="#c8304f" stroke-width="1"/>
<circle cx="213.00" cy="453.00" r="1.10" fill="#fff" stroke="#c8304f" stroke-width="1"/>
<circle cx="232.00" cy="467.00" r="1.10" fill="#fff" stroke="#c8304f" stroke-width="1"/>
<circle cx="244.00" cy="470.00" r="1.10" fill="#fff" stroke="#c8304f" stroke-width="1"/>
<path d="M156.00,394.00 L171.00,402.00 L189.00,418.00 L204.00,441.00 L220.00,458.00 L238.00,469.00 L250.00,473.00" fill="none" stroke="#b81d45" stroke-width="1.2" stroke-linejoin="round" opacity="1"/>
<path d="M156.00,392.50 L157.50,394.00 L156.00,395.50 L154.50,394.00 Z" fill="#b81d45"/>
<path d="M171.00,400.50 L172.50,402.00 L171.00,403.50 L169.50,402.00 Z" fill="#b81d45"/>
<path d="M189.00,416.50 L190.50,418.00 L189.00,419.50 L187.50,418.00 Z" fill="#b81d45"/>
<path d="M204.00,439.50 L205.50,441.00 L204.00,442.50 L202.50,441.00 Z" fill="#b81d45"/>
<path d="M220.00,456.50 L221.50,458.00 L220.00,459.50 L218.50,458.00 Z" fill="#b81d45"/>
<path d="M238.00,467.50 L239.50,469.00 L238.00,470.50 L236.50,469.00 Z" fill="#b81d45"/>
<path d="M250.00,471.50 L251.50,473.00 L250.00,474.50 L248.50,473.00 Z" fill="#b81d45"/>
<path d="M275.10,392.20 L282.10,392.20" stroke="#c8304f" stroke-width="1.3"/>
<circle cx="278.60" cy="392.20" r="1.70" fill="#fff" stroke="#c8304f" stroke-width="1"/>
<text x="285.10" y="394.70" font-size="7.2" fill="#3a3a3a" color="#3a3a3a" font-weight="normal" textLength="34.10" lengthAdjust="spacingAndGlyphs" style="stroke-width:0.08px">A91V/S150*</text>
<path d="M275.10,401.00 L282.10,401.00" stroke="#b81d45" stroke-width="1.3"/>
<path d="M278.60,399.10 L280.40,402.50 L276.80,402.50 Z" fill="#b81d45"/>
<text x="285.10" y="403.50" font-size="7.2" fill="#3a3a3a" color="#3a3a3a" font-weight="normal" textLength="45.90" lengthAdjust="spacingAndGlyphs" style="stroke-width:0.08px">A91V/R177C P1</text>
<path d="M275.10,409.50 L282.10,409.50" stroke="#b81d45" stroke-width="1.3"/>
<path d="M278.60,407.60 L280.50,409.50 L278.60,411.40 L276.70,409.50 Z" fill="#b81d45"/>
<text x="285.10" y="412.00" font-size="7.2" fill="#3a3a3a" color="#3a3a3a" font-weight="normal" textLength="45.90" lengthAdjust="spacingAndGlyphs" style="stroke-width:0.08px">A91V/R177C P2</text>
<path d="M275.10,418.40 L282.10,418.40" stroke="#b81d45" stroke-width="1.3"/>
<path d="M278.60,416.50 L280.50,418.40 L278.60,420.30 L276.70,418.40 Z" fill="#b81d45"/>
<text x="285.10" y="420.90" font-size="7.2" fill="#3a3a3a" color="#3a3a3a" font-weight="normal" textLength="37.30" lengthAdjust="spacingAndGlyphs" style="stroke-width:0.08px">A91V/G220S</text>
<path d="M275.10,426.90 L282.10,426.90" stroke="#b81d45" stroke-width="1.3"/>
<path d="M278.60,425.00 L280.40,428.40 L276.80,428.40 Z" fill="#b81d45"/>
<text x="285.10" y="429.40" font-size="7.2" fill="#3a3a3a" color="#3a3a3a" font-weight="normal" textLength="34.70" lengthAdjust="spacingAndGlyphs" style="stroke-width:0.08px">A91V/Q405*</text>
<path d="M275.10,435.80 L282.10,435.80" stroke="#e6b4bd" stroke-width="1.3"/>
<circle cx="278.60" cy="435.80" r="1.50" fill="#e6b4bd"/>
<text x="285.10" y="438.30" font-size="7.2" fill="#3a3a3a" color="#3a3a3a" font-weight="normal" textLength="42.10" lengthAdjust="spacingAndGlyphs" style="stroke-width:0.08px">A91V/A91V #1</text>
<path d="M275.10,444.40 L282.10,444.40" stroke="#e6b4bd" stroke-width="1.3"/>
<circle cx="278.60" cy="444.40" r="1.50" fill="#e6b4bd"/>
<text x="285.10" y="446.90" font-size="7.2" fill="#3a3a3a" color="#3a3a3a" font-weight="normal" textLength="43.00" lengthAdjust="spacingAndGlyphs" style="stroke-width:0.08px">A91V/A91V #2</text>
<path d="M346.90,391.90 L353.75,391.90" stroke="#b3acd6" stroke-width="1.3"/>
<circle cx="350.32" cy="391.90" r="1.50" fill="#b3acd6"/>
<text x="356.50" y="394.40" font-size="7.2" fill="#3a3a3a" color="#3a3a3a" font-weight="normal" textLength="41.60" lengthAdjust="spacingAndGlyphs" style="stroke-width:0.08px">W374*/W374*</text>
<path d="M346.90,400.90 L353.75,400.90" stroke="#1b5479" stroke-width="1.3"/>
<rect x="348.82" y="399.40" width="3.00" height="3.00" fill="#1b5479"/>
<text x="356.50" y="403.40" font-size="7.2" fill="#3a3a3a" color="#3a3a3a" font-weight="normal" textLength="15.40" lengthAdjust="spacingAndGlyphs" style="stroke-width:0.08px">Ctrl 1</text>
<path d="M346.90,409.40 L353.75,409.40" stroke="#1b5479" stroke-width="1.3"/>
<circle cx="350.32" cy="409.40" r="1.50" fill="#1b5479"/>
<text x="356.50" y="411.90" font-size="7.2" fill="#3a3a3a" color="#3a3a3a" font-weight="normal" textLength="15.50" lengthAdjust="spacingAndGlyphs" style="stroke-width:0.08px">Ctrl 2</text>
<path d="M346.90,418.10 L353.75,418.10" stroke="#1b5479" stroke-width="1.3"/>
<path d="M350.32,416.20 L352.12,419.60 L348.52,419.60 Z" fill="#1b5479"/>
<text x="356.50" y="420.60" font-size="7.2" fill="#3a3a3a" color="#3a3a3a" font-weight="normal" textLength="15.50" lengthAdjust="spacingAndGlyphs" style="stroke-width:0.08px">Ctrl 3</text>
<path d="M346.90,426.90 L353.75,426.90" stroke="#1d3a6a" stroke-width="1.3"/>
<path d="M350.32,425.00 L352.12,428.40 L348.52,428.40 Z" fill="#1d3a6a"/>
<text x="356.50" y="429.40" font-size="7.2" fill="#3a3a3a" color="#3a3a3a" font-weight="normal" textLength="15.75" lengthAdjust="spacingAndGlyphs" style="stroke-width:0.08px">Ctrl 4</text>
<rect x="0" y="0" width="520" height="1" fill="#3a3a3a"/>
<rect x="0" y="0" width="1" height="509" fill="#3a3a3a"/>
<rect x="519" y="0" width="1" height="509" fill="#333"/>
<rect x="518" y="0" width="1" height="509" fill="#cfcfcf"/>
<rect x="0" y="508" width="520" height="1" fill="#333"/>
</svg></body></html>
